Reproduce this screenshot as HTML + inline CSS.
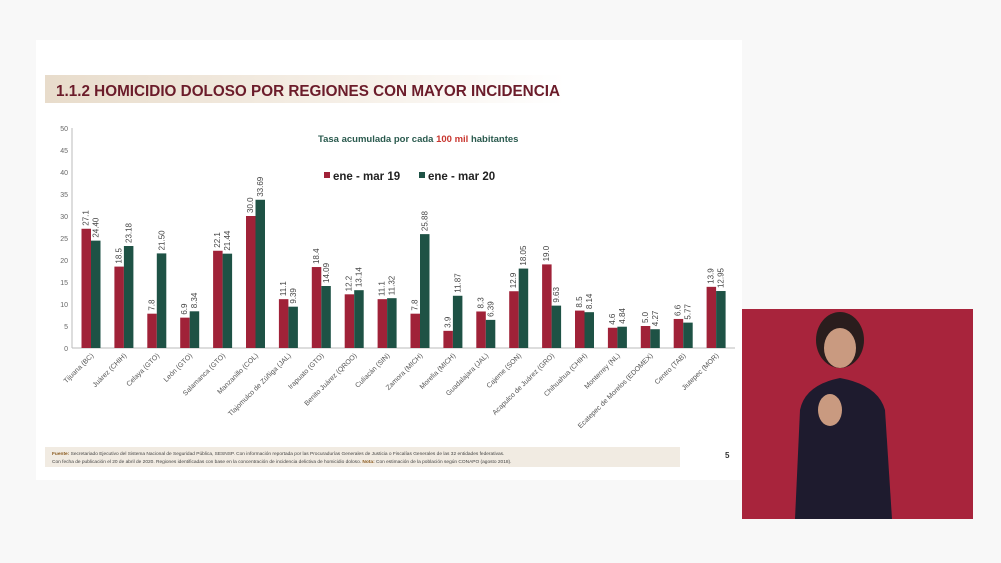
<!DOCTYPE html>
<html><head><meta charset="utf-8"><style>
body{margin:0;width:1001px;height:563px;background:#f8f8f8;overflow:hidden;font-family:"Liberation Sans",sans-serif;}
.slide{position:absolute;left:36px;top:40px;width:706px;height:440px;background:#fff;}
</style></head><body>
<div class="slide"></div>
<svg width="1001" height="563" style="position:absolute;left:0;top:0" font-family="Liberation Sans, sans-serif">
<defs><linearGradient id="tg" x1="0" x2="1"><stop offset="0" stop-color="#e8dccb"/><stop offset="0.6" stop-color="#f6f0e8"/><stop offset="1" stop-color="#fff"/></linearGradient></defs>
<rect x="45" y="75" width="520" height="28" fill="url(#tg)"/>
<text x="56" y="96" font-size="16" font-weight="bold" fill="#6b1c2a" textLength="504" lengthAdjust="spacingAndGlyphs">1.1.2 HOMICIDIO DOLOSO POR REGIONES CON MAYOR INCIDENCIA</text>
<text x="318" y="142" font-size="9.5" font-weight="bold" fill="#2a5a4e">Tasa acumulada por cada <tspan fill="#c8362f">100 mil</tspan> habitantes</text>
<rect x="324" y="172" width="6" height="6" fill="#a02238"/><text x="333" y="180" font-size="11.5" font-weight="bold" fill="#222">ene - mar 19</text>
<rect x="419" y="172" width="6" height="6" fill="#1e5245"/><text x="428" y="180" font-size="11.5" font-weight="bold" fill="#222">ene - mar 20</text>
<g font-size="7" fill="#666" text-anchor="end">
<line x1="72" y1="128" x2="72" y2="348" stroke="#bbb"/><line x1="72" y1="348" x2="735" y2="348" stroke="#bbb"/>
<text x="68" y="351">0</text><text x="68" y="329">5</text><text x="68" y="307">10</text><text x="68" y="285">15</text><text x="68" y="263">20</text><text x="68" y="241">25</text><text x="68" y="219">30</text><text x="68" y="197">35</text><text x="68" y="175">40</text><text x="68" y="153">45</text><text x="68" y="131">50</text>
</g>
<g id="bars"></g>
<rect x="45" y="447" width="635" height="20" fill="#f1ebe2"/>
<text x="52" y="455" font-size="4.8" fill="#444"><tspan font-weight="bold" fill="#8a5a1e">Fuente:</tspan> Secretariado Ejecutivo del Sistema Nacional de Seguridad Pública, SESNSP. Con información reportada por las Procuradurías Generales de Justicia o Fiscalías Generales de las 32 entidades federativas.</text>
<text x="52" y="463" font-size="4.8" fill="#444">Con fecha de publicación el 20 de abril de 2020. Regiones identificadas con base en la concentración de incidencia delictiva de homicidio doloso. <tspan font-weight="bold" fill="#8a5a1e">Nota:</tspan> Con estimación de la población según CONAPO (agosto 2018).</text>
<text x="725" y="458" font-size="8" font-weight="bold" fill="#333">5</text>
<rect x="742" y="309" width="231" height="210" fill="#a8243c"/>
<ellipse cx="840" cy="340" rx="24" ry="28" fill="#2a1d1d"/>
<ellipse cx="840" cy="348" rx="16" ry="20" fill="#c99a80"/>
<path d="M795,519 L800,410 Q805,385 840,378 Q878,385 885,410 L892,519 Z" fill="#1e1b2e"/>
<ellipse cx="830" cy="410" rx="12" ry="16" fill="#c99a80"/>
</svg>
<script>
var names=["Tijuana (BC)","Juárez (CHIH)","Celaya (GTO)","León (GTO)","Salamanca (GTO)","Manzanillo (COL)","Tlajomulco de Zúñiga (JAL)","Irapuato (GTO)","Benito Juárez (QROO)","Culiacán (SIN)","Zamora (MICH)","Morelia (MICH)","Guadalajara (JAL)","Cajeme (SON)","Acapulco de Juárez (GRO)","Chihuahua (CHIH)","Monterrey (NL)","Ecatepec de Morelos (EDOMEX)","Centro (TAB)","Jiutepec (MOR)"];
var a=["27.1","18.5","7.8","6.9","22.1","30.0","11.1","18.4","12.2","11.1","7.8","3.9","8.3","12.9","19.0","8.5","4.6","5.0","6.6","13.9"];
var b=["24.40","23.18","21.50","8.34","21.44","33.69","9.39","14.09","13.14","11.32","25.88","11.87","6.39","18.05","9.63","8.14","4.84","4.27","5.77","12.95"];
var s="";
for(var i=0;i<20;i++){var c=91+i*32.9;var ha=a[i]*4.4,hb=b[i]*4.4;
s+='<rect x="'+(c-9.5)+'" y="'+(348-ha)+'" width="9.5" height="'+ha+'" fill="#a02238"/>';
s+='<rect x="'+c+'" y="'+(348-hb)+'" width="9.5" height="'+hb+'" fill="#1e5245"/>';
s+='<text transform="translate('+(c-2.5)+','+(345-ha)+') rotate(-90)" font-size="8" fill="#444">'+a[i]+'</text>';
s+='<text transform="translate('+(c+7.5)+','+(345-hb)+') rotate(-90)" font-size="8" fill="#444">'+b[i]+'</text>';
s+='<text transform="translate('+(c+3)+',356) rotate(-45)" font-size="7" fill="#555" text-anchor="end">'+names[i]+'</text>';}
document.getElementById("bars").innerHTML=s;
</script>
</body></html>
